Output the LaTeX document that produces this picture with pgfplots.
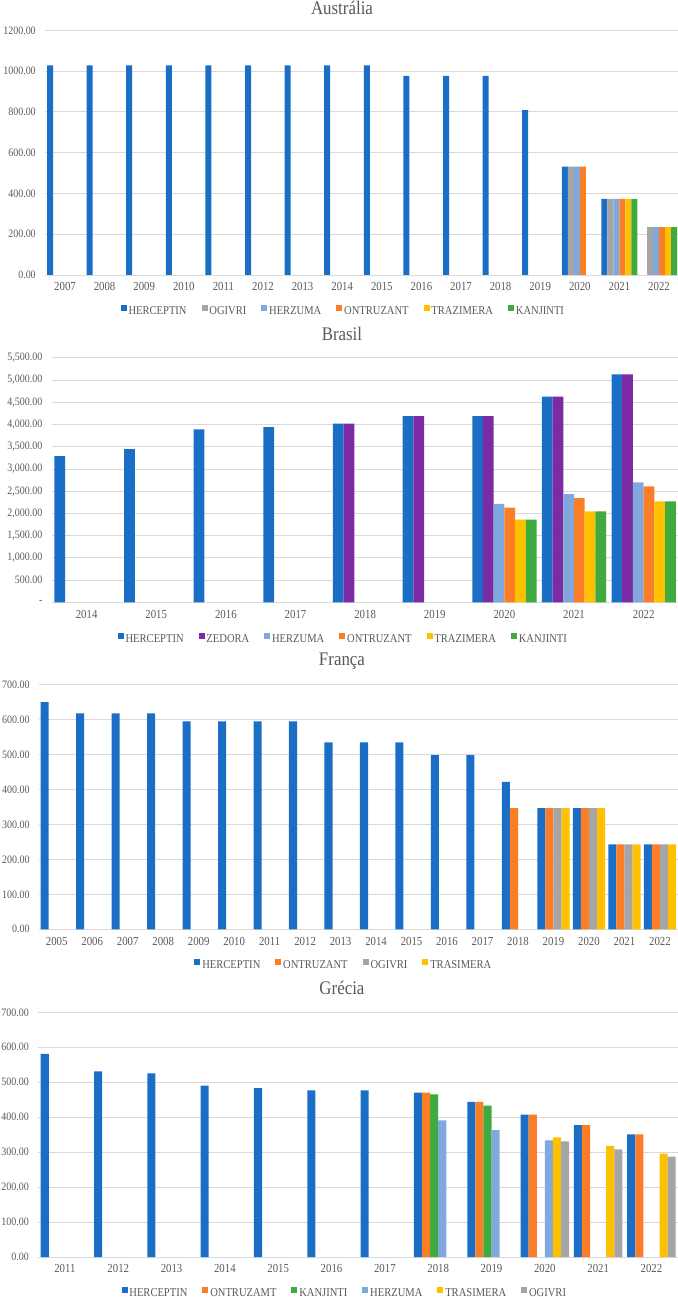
\documentclass[border=0pt]{standalone}
\usepackage{pgfplots}
\pgfplotsset{compat=1.18}
\usepackage{fontspec}
\setmainfont[FakeStretch=0.88]{Liberation Serif}
\definecolor{txt}{HTML}{595959}
\definecolor{gridc}{HTML}{D9D9D9}
\definecolor{cHer}{HTML}{1A6EC6}
\definecolor{cZed}{HTML}{7B2BA3}
\definecolor{cHez}{HTML}{80A8DC}
\definecolor{cOnt}{HTML}{FB7E26}
\definecolor{cTra}{HTML}{FFC000}
\definecolor{cKan}{HTML}{3FAA3F}
\definecolor{cOgi}{HTML}{A5A5A5}
\pgfplotsset{
  every axis title shift=0pt,
  panel/.style={
    scale only axis, anchor=south west,
    ybar, axis line style={draw=none}, tick style={draw=none},
    major tick length=0pt,
    ymajorgrids, grid style={gridc, line width=0.6pt},
    ymin=0, xmin=-0.5,
    xtick={0,...,20},
    xticklabel style={font=\fontsize{9.2}{10}\selectfont, text=txt, inner sep=0pt, anchor=north, yshift=-5.6pt},
    yticklabel style={font=\fontsize{8.5}{10}\selectfont, text=txt, inner sep=0pt, anchor=east, xshift=-6.9pt},
    title style={font=\fontsize{14.4}{16}\selectfont, text=txt, anchor=center, inner sep=0pt, yshift=0pt},
    legend columns=-1,
    legend style={draw=none, fill=none, inner sep=0pt, anchor=center,
      font=\fontsize{9}{10}\selectfont, text=txt,
      nodes={inner xsep=1pt, inner ysep=0pt},
      /tikz/every odd column/.append style={column sep=0.4pt},
      /tikz/every even column/.append style={column sep=10.2pt}},
    legend image code/.code={\fill[##1] (0pt,0.02em) rectangle (4.5pt,4.52pt);},
    every axis plot/.append style={draw=none},
    clip=false,
  }
}
\begin{document}
\begin{tikzpicture}
\useasboundingbox (0,0) rectangle (508.5pt,972.75pt);
% ---------------- Australia ----------------
\begin{axis}[panel,
  at={(33.9pt,766.5pt)}, width=475.2pt, height=183.5pt,
  xmax=15.5, ymax=1200,
  xticklabels={2007,2008,2009,2010,2011,2012,2013,2014,2015,2016,2017,2018,2019,2020,2021,2022},
  ytick={0,200,400,600,800,1000,1200},
  yticklabels={0.00,200.00,400.00,600.00,800.00,1000.00,1200.00},
  title={Austrália}, title style={at={(0.4684,1.0915)}},
  legend style={at={(0.470,-0.147)}},
  bar width=0.15152,
]
\addplot[fill=cHer, bar shift=-0.3788] coordinates {(0,1028) (1,1028) (2,1028) (3,1028) (4,1028) (5,1028) (6,1028) (7,1028) (8,1028) (9,976) (10,976) (11,976) (12,808) (13,531) (14,373)};
\addplot[fill=cOgi, bar shift=-0.2273] coordinates {(13,531) (14,373) (15,235)};
\addplot[fill=cHez, bar shift=-0.0758] coordinates {(13,531) (14,373) (15,235)};
\addplot[fill=cOnt, bar shift=0.0758] coordinates {(13,531) (14,373) (15,235)};
\addplot[fill=cTra, bar shift=0.2273] coordinates {(14,373) (15,235)};
\addplot[fill=cKan, bar shift=0.3788] coordinates {(14,373) (15,235)};
\legend{HERCEPTIN,OGIVRI,HERZUMA,ONTRUZANT,TRAZIMERA,KANJINTI}
\end{axis}
% ---------------- Brasil ----------------
\begin{axis}[panel,
  at={(38.85pt,521.0pt)}, width=470pt, height=183.45pt,
  xmax=8.5, ymax=5500,
  xticklabels={2014,2015,2016,2017,2018,2019,2020,2021,2022},
  ytick={0,500,1000,1500,2000,2500,3000,3500,4000,4500,5000,5500},
  yticklabels={{-\hspace{0.75em}},{500.00},{1,000.00},{1,500.00},{2,000.00},{2,500.00},{3,000.00},{3,500.00},{4,000.00},{4,500.00},{5,000.00},{5,500.00}},
  title={Brasil}, title style={at={(0.463,1.097)}},
  legend style={at={(0.4647,-0.149)}},
  bar width=0.15385,
]
\addplot[fill=cHer, bar shift=-0.3846] coordinates {(0,3290) (1,3447) (2,3889) (3,3942) (4,4016) (5,4189) (6,4189) (7,4623) (8,5126)};
\addplot[fill=cZed, bar shift=-0.2308] coordinates {(4,4016) (5,4189) (6,4189) (7,4623) (8,5126)};
\addplot[fill=cHez, bar shift=-0.0769] coordinates {(6,2211) (7,2435) (8,2698)};
\addplot[fill=cOnt, bar shift=0.0769] coordinates {(6,2128) (7,2345) (8,2608)};
\addplot[fill=cTra, bar shift=0.2308] coordinates {(6,1858) (7,2046) (8,2271)};
\addplot[fill=cKan, bar shift=0.3846] coordinates {(6,1858) (7,2046) (8,2271)};
\legend{HERCEPTIN,ZEDORA,HERZUMA,ONTRUZANT,TRAZIMERA,KANJINTI}
\end{axis}
% ---------------- França ----------------
\begin{axis}[panel,
  at={(29.25pt,275.8pt)}, width=479pt, height=183.45pt,
  xmax=17.5, ymax=700,
  xticklabels={2005,2006,2007,2008,2009,2010,2011,2012,2013,2014,2015,2016,2017,2018,2019,2020,2021,2022},
  ytick={0,100,200,300,400,500,600,700},
  yticklabels={0.00,100.00,200.00,300.00,400.00,500.00,600.00,700.00},
  title={França}, title style={at={(0.4744,1.094)}},
  legend style={at={(0.4768,-0.146)}},
  bar width=0.22727,
]
\addplot[fill=cHer, bar shift=-0.3409] coordinates {(0,650) (1,618) (2,618) (3,618) (4,595) (5,595) (6,595) (7,595) (8,535) (9,535) (10,535) (11,498) (12,498) (13,422) (14,347) (15,347) (16,243) (17,243)};
\addplot[fill=cOnt, bar shift=-0.1136] coordinates {(13,347) (14,347) (15,347) (16,243) (17,243)};
\addplot[fill=cOgi, bar shift=0.1136] coordinates {(14,347) (15,347) (16,243) (17,243)};
\addplot[fill=cTra, bar shift=0.3409] coordinates {(14,347) (15,347) (16,243) (17,243)};
\legend{HERCEPTIN,ONTRUZANT,OGIVRI,TRASIMERA}
\end{axis}
% ---------------- Grécia ----------------
\begin{axis}[panel,
  at={(28.7pt,30pt)}, width=479.9pt, height=183.5pt,
  xmax=11.5, ymax=700,
  xticklabels={2011,2012,2013,2014,2015,2016,2017,2018,2019,2020,2021,2022},
  ytick={0,100,200,300,400,500,600,700},
  yticklabels={0.00,100.00,200.00,300.00,400.00,500.00,600.00,700.00},
  title={Grécia}, title style={at={(0.4746,1.098)}},
  legend style={at={(0.4785,-0.146)}},
  bar width=0.15152,
]
\addplot[fill=cHer, bar shift=-0.3788] coordinates {(0,581) (1,531) (2,525.5) (3,490) (4,483.5) (5,477) (6,477) (7,470) (8,443.5) (9,407) (10,377.6) (11,351)};
\addplot[fill=cOnt, bar shift=-0.2273] coordinates {(7,470) (8,443.5) (9,407) (10,377.6) (11,351)};
\addplot[fill=cKan, bar shift=-0.0758] coordinates {(7,465) (8,433)};
\addplot[fill=cHez, bar shift=0.0758] coordinates {(7,391) (8,363) (9,334)};
\addplot[fill=cTra, bar shift=0.2273] coordinates {(9,342) (10,317.6) (11,295.6)};
\addplot[fill=cOgi, bar shift=0.3788] coordinates {(9,331) (10,308) (11,287)};
\legend{HERCEPTIN,ONTRUZAMT,KANJINTI,HERZUMA,TRASIMERA,OGIVRI}
\end{axis}
\end{tikzpicture}
\end{document}
